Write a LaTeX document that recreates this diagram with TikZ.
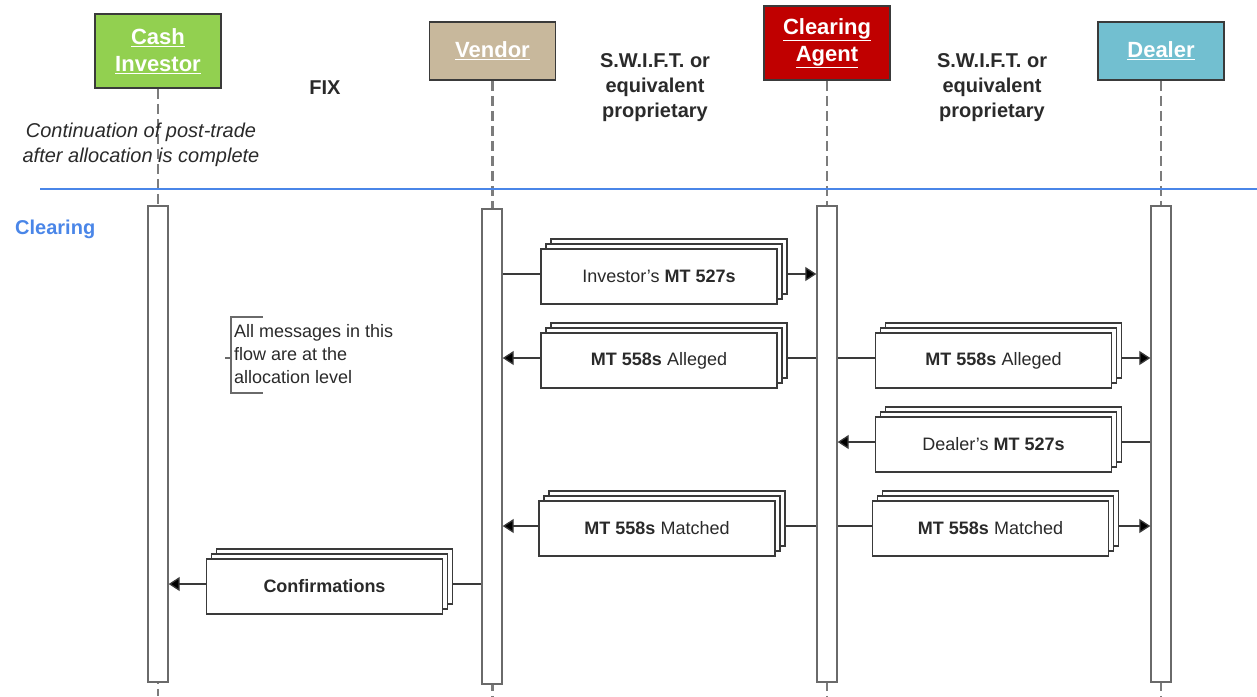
\documentclass[tikz,border=0pt]{standalone}
\usepackage{fontspec}
\setmainfont{Liberation Sans}
\usetikzlibrary{arrows.meta,calc}

\definecolor{invgreen}{HTML}{92D050}
\definecolor{vendtan}{HTML}{C8B89C}
\definecolor{clearred}{HTML}{C00000}
\definecolor{dealblue}{HTML}{72BFD0}
\definecolor{rulecol}{HTML}{4A86E8}
\definecolor{edge}{HTML}{3A3A3A}
\definecolor{lifegray}{HTML}{6A6A6A}
\definecolor{dashgray}{HTML}{7C7C7C}
\definecolor{txt}{HTML}{2A2A2A}

% stacked message box: name, centre x, centre y, text
\newcommand\stackmsg[4]{%
  \foreach \d in {10,5}{\draw[msgback] (#2+\d-118,#3-\d-27.5) rectangle ++(236,55);}
  \node[msg] (#1) at (#2,#3) {#4};}

\begin{document}
\begin{tikzpicture}[x=1pt,y=-1pt,
  actor/.style={draw=edge, line width=1.5pt, minimum width=126pt, text=white,
    font=\fontsize{22}{27}\selectfont\bfseries, align=center, inner sep=0pt},
  bar/.style={draw=lifegray, fill=white, line width=1.4pt, minimum width=20pt, inner sep=0pt},
  life/.style={draw=dashgray, line width=2.2pt, dash pattern=on 10pt off 5pt},
  msg/.style={draw=edge, fill=white, line width=1.3pt, minimum width=236pt,
    minimum height=55pt, inner sep=0pt, text=txt, font=\fontsize{18}{22}\selectfont},
  msgback/.style={draw=edge, fill=white, line width=1.3pt},
  link/.style={draw=edge, line width=1.3pt},
  arr/.style={draw=edge, line width=1.3pt, -{Triangle[length=11pt,width=14pt,fill=black]}},
  label/.style={text=txt, font=\fontsize{20}{25}\selectfont\bfseries, align=center, inner sep=0pt},
  note/.style={text=txt, font=\fontsize{18}{23}\selectfont, align=left, inner sep=0pt},
]
\useasboundingbox (0,0) rectangle (1257,696);
\coordinate (bottom) at (0,696);

% participants
\node[actor, fill=invgreen, minimum height=74pt] (inv) at (158,51) {\underline{Cash}\\\underline{Investor}};
\node[actor, fill=vendtan, minimum height=58pt] (ven) at (492.5,51) {\underline{Vendor}};
\node[actor, fill=clearred, minimum height=74pt] (clr) at (827,43) {\underline{Clearing}\\\underline{Agent}};
\node[actor, fill=dealblue, minimum height=58pt] (dea) at (1161,51) {\underline{Dealer}};

% lifelines
\draw[life] (inv.south) -- (inv.south |- bottom);
\draw[life] (ven.south) -- (ven.south |- bottom);
\draw[life] (clr.south) -- (clr.south |- bottom);
\draw[life] (dea.south) -- (dea.south |- bottom);

% protocol labels
\node[label] (fix) at (325,88) {FIX};
\node[label] (swa) at (655,88) {S.W.I.F.T. or\\equivalent\\proprietary};
\node[label] (swb) at (992,88) {S.W.I.F.T. or\\equivalent\\proprietary};
\node[text=txt, font=\fontsize{20}{25}\selectfont\itshape, align=center, inner sep=0pt] (cont)
  at (141,145) {Continuation of post-trade\\after allocation is complete};

% phase separator
\draw[draw=rulecol, line width=1.5pt] (40,189) -- (1257,189);
\node[anchor=west, text=rulecol, font=\fontsize{20}{24}\selectfont\bfseries, inner sep=0pt] (phase) at (15,229) {Clearing};

% activation bars
\node[bar, minimum height=476pt] (ibar) at (158,444) {};
\node[bar, minimum height=475pt] (vbar) at (492,446.5) {};
\node[bar, minimum height=476pt] (cbar) at (827,444) {};
\node[bar, minimum height=476pt] (dbar) at (1161,444) {};

% message rows
\coordinate (r1) at (0,274);
\coordinate (r2) at (0,358);
\coordinate (r3) at (0,442);
\coordinate (r4) at (0,526);
\coordinate (r5) at (0,584);

\stackmsg{m1}{659}{276.5}{Investor's \textbf{MT 527s}}
\stackmsg{m2}{659}{360.5}{\textbf{MT 558s} Alleged}
\stackmsg{m3}{993.5}{360.5}{\textbf{MT 558s} Alleged}
\stackmsg{m4}{993.5}{444.5}{Dealer's \textbf{MT 527s}}
\stackmsg{m5}{657}{528.5}{\textbf{MT 558s} Matched}
\stackmsg{m6}{990.5}{528.5}{\textbf{MT 558s} Matched}
\stackmsg{m7}{324.5}{586.5}{\textbf{Confirmations}}

% connectors
\draw[link] (vbar.east |- r1) -- (m1.west |- r1);
\draw[arr] ([xshift=10pt]m1.east |- r1) -- (cbar.west |- r1);

\draw[link] (cbar.west |- r2) -- ([xshift=10pt]m2.east |- r2);
\draw[arr] (m2.west |- r2) -- (vbar.east |- r2);
\draw[link] (cbar.east |- r2) -- (m3.west |- r2);
\draw[arr] ([xshift=10pt]m3.east |- r2) -- (dbar.west |- r2);

\draw[link] (dbar.west |- r3) -- ([xshift=10pt]m4.east |- r3);
\draw[arr] (m4.west |- r3) -- (cbar.east |- r3);

\draw[link] (cbar.west |- r4) -- ([xshift=10pt]m5.east |- r4);
\draw[arr] (m5.west |- r4) -- (vbar.east |- r4);
\draw[link] (cbar.east |- r4) -- (m6.west |- r4);
\draw[arr] ([xshift=10pt]m6.east |- r4) -- (dbar.west |- r4);

\draw[link] (vbar.west |- r5) -- ([xshift=10pt]m7.east |- r5);
\draw[arr] (m7.west |- r5) -- (ibar.east |- r5);

% annotation bracket
\draw[draw=lifegray, line width=1.3pt] (263,317) -- (231,317) -- (231,393) -- (263,393);
\draw[draw=lifegray, line width=1.3pt] (225,358) -- (231,358);
\node[note, anchor=west] (scope) at (234,354) {All messages in this\\flow are at the\\allocation level};
\end{tikzpicture}
\end{document}
